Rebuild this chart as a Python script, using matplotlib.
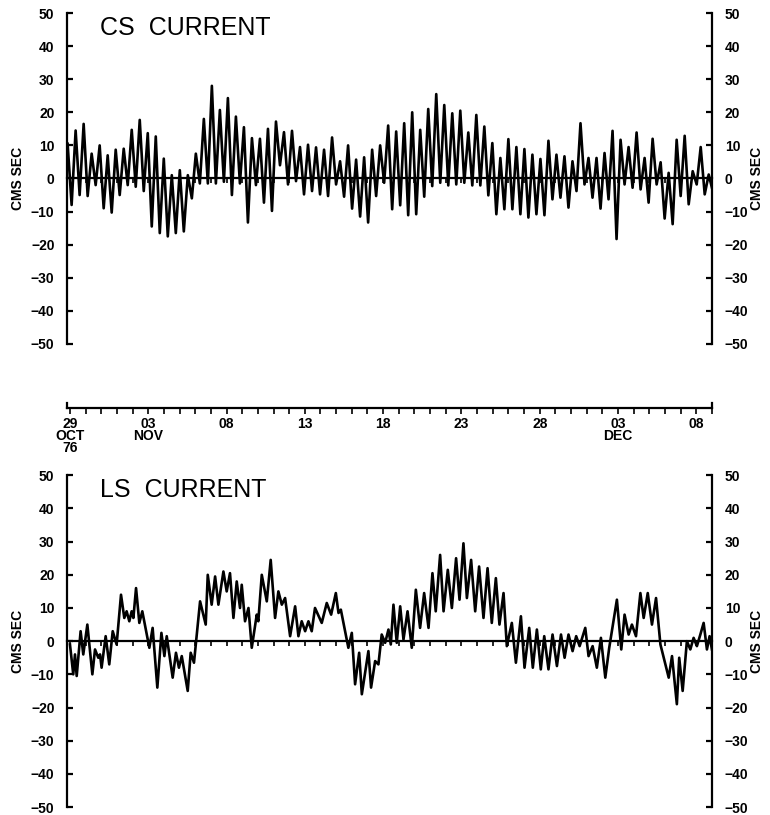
import numpy as np
import matplotlib
matplotlib.use("Agg")
import matplotlib.pyplot as plt

plt.rcParams['font.family'] = ['Liberation Sans', 'DejaVu Sans']

# CS current extremes (cm/s), sampled at a regular interval over the record
cs_current = [
    10.5, -8, 14.5, -5, 16.5, -5.3, 7.5, -2, 10, -9, 7, -10.3, 8.7, -5, 9, -2,
    14.7, -2.5, 17.7, -3.8, 13.7, -14.5, 12.7, -16.5, 6, -17.5, 1, -16.5, 2.5, -16,
    1, -6, 7.5, -1.5, 18, -1.5, 28, -1.5, 20.7, -1, 24.3, -5, 18.7, -1.5, 15.5, -13.3,
    12.2, -2,
    12, -7.3, 15, -9.8, 17.2, 4, 14, -1.8, 14.4, -0.8, 9.5, -4.8, 10.2, -3.8, 9.4, -4.8,
    8.7, -5.3, 12.4, -1.8, 5.2, -5.5, 10, -9.1, 5.7, -11.5, 6.4, -13.3, 8.7, -5.3,
    10, -1.3, 16, -9.3, 14.2, -8.1, 16.7, -11.1, 20, -10.8, 14.7, -5.5, 21, -2.3,
    25.5, -1.3, 22.2, -2.1, 19.7, -1.8,
    20.5, -1.3, 13.9, -2.1, 19.2, -2.1, 15.7, -5.1, 10.7, -10.8, 6.2, -9.3, 11.9, -9.3,
    9.5, -10.8, 8.9, -11.8, 7.2, -10.8, 5.9, -11.1, 11.4, -6.3, 7.2, -5.8, 6.7, -8.8,
    5.2, -3.8, 16.7, -1.8, 6.2, -5.8, 6.2, -9.1, 7.7, -6.3, 14.4, -18.3, 11.7, -1.8,
    9.5, -2.8, 13.9, -3.3, 6.2, -7.3, 12, -1.8, 4.9, -12.1, 1.7, -13.8, 11.7, -5.3,
    12.9, -7.8, 2.2, -1.8, 9.5, -4.8, 1.2, -3.8,
]
# CS record span, days from 29 Oct 1976 00:00
cs_start_day = -0.15
cs_end_day = 41.05

# LS current turning points: time (days from 29 Oct 1976 00:00) and speed (cm/s)
ls_day = [
    0.00, 0.21, 0.32, 0.43, 0.68, 0.85, 1.11, 1.43, 1.60, 1.81, 1.92, 2.02, 2.28,
    2.51, 2.73, 2.98, 3.26, 3.47, 3.62, 3.79, 3.94, 4.05, 4.22, 4.43, 4.62, 5.07,
    5.28, 5.58, 5.84, 6.03, 6.18, 6.56, 6.77, 6.96, 7.14, 7.52, 7.71, 7.92, 8.31,
    8.67, 8.80, 9.05, 9.27, 9.48, 9.80, 10.01, 10.22, 10.44, 10.65, 10.86, 10.97,
    11.18, 11.40, 11.61, 11.93, 12.03, 12.25,
    12.57, 12.82, 13.10, 13.31, 13.53, 13.74, 14.06, 14.38, 14.59, 14.80, 15.02,
    15.23, 15.44, 15.65, 16.08, 16.40, 16.68, 16.98, 17.15, 17.30, 17.78, 18.00,
    18.21, 18.47, 18.64, 19.06, 19.23, 19.49, 19.70, 19.91, 20.13, 20.34, 20.49,
    20.66, 20.87, 21.09, 21.30, 21.56, 21.83, 22.09, 22.36, 22.62, 22.90, 23.15,
    23.36, 23.64, 23.86, 24.13, 24.39, 24.66, 24.88, 25.13,
    25.35, 25.62, 25.88, 26.13, 26.41, 26.67, 26.94, 27.20, 27.43, 27.69, 27.90,
    28.22, 28.48, 28.80, 29.03, 29.33, 29.56, 29.82, 30.07, 30.29, 30.56, 30.82,
    31.10, 31.36, 31.59, 31.84, 32.10, 32.33, 32.55, 32.91, 33.12, 33.38, 33.65,
    33.91, 34.19, 34.44, 34.93, 35.21, 35.42, 35.68, 35.89, 36.15, 36.43, 36.64,
    36.90, 37.17, 37.43, 37.71, 38.24, 38.45, 38.76, 38.91, 39.13, 39.40, 39.62,
    39.83, 40.04, 40.26, 40.47, 40.68, 40.85, 41.00,
]
ls_current = [
    -1, -10, -4, -10.5, 3, -4, 5, -10, -2.5, -5, -4, -8, 1.5,
    -7, 3, -1, 14, 7, 9, 6, 9, 7, 16, 5.5, 9, -2,
    4, -14, 2.5, -4.5, 1.5, -11, -3.5, -8, -4.5, -15, -3.5, -6.5, 12,
    5, 20, 11, 19.5, 11, 21, 15, 20.5, 7, 18, 10, 17,
    6, 10, -2, 8, 6, 20,
    12, 24.5, 7, 15, 11, 13, 1.5, 10.5, 1.5, 6, 3,
    6, 3, 10, 5.5, 11.5, 8, 14.5, 8.5, 9.5, -2, 2.5,
    -13, -3.5, -16, -3, -14, -6, -7, 2, -0.5, 3.5, -1,
    11, -0.5, 10.5, 0.5, 9, -2, 15.5, 4, 14.5, 4, 20.5,
    9, 26, 9, 21.5, 10, 25, 12.5, 29.5,
    13, 24.5, 9, 22.5, 7, 22, 5.5, 19, 5, 14.5, -1.5,
    5.5, -6.5, 7.5, -8, 4, -8, 3.5, -8.5, 1.5, -8.5, 2,
    -7.5, 2, -5, 2, -3, 1.5, -1.5, 4, -4.5, -1.5, -8,
    1, -11, -2, 12.5, -2.5, 8, 2, 5, 1.5, 14.5, 7,
    14.5, 5, 13, -1, -11, -4.5, -19, -5, -15, 0, -2.5,
    1, -1.5, 2, 5.5, -2.5, 1.5, -2.5,
]

day_ticks = list(range(0, 41, 5))
day_labels = ['29\nOCT\n76', '03\nNOV', '08', '13', '18', '23', '28', '03\nDEC', '08']
y_ticks = list(range(-50, 51, 10))
xlim = (-0.19, 41.02)

fig = plt.figure(figsize=(7.7, 8.15), dpi=100)

LABEL_FONT = dict(fontsize=10, fontweight='bold')


def panel(rect, t, values, title):
    ax = fig.add_axes(rect)
    ax.plot(t, values, color='black', lw=1.9, solid_joinstyle='round')
    ax.set_xlim(*xlim)
    ax.set_ylim(-50, 50)
    ax.spines['top'].set_visible(False)
    # the bottom spine doubles as the zero line, with a tick at each day
    ax.spines['bottom'].set_position(('data', 0))
    ax.spines['bottom'].set_linewidth(1.6)
    for side in ('left', 'right'):
        ax.spines[side].set_linewidth(1.6)
    ax.set_xticks(np.arange(0, 42, 1))
    ax.tick_params(axis='x', direction='out', length=3.5, width=1.2,
                   labelbottom=False)
    ax.set_yticks(y_ticks)
    ax.tick_params(axis='y', which='both', direction='in', length=4.5, width=1.6,
                   left=True, right=True, labelleft=True, labelright=True,
                   labelsize=10, pad=9)
    for lab in ax.get_yticklabels():
        lab.set_fontweight('bold')
    ax.text(0.051, 0.955, title, transform=ax.transAxes, fontsize=18,
            va='center', ha='left')
    ax.text(-0.076, 0.5, 'CMS SEC', transform=ax.transAxes, rotation=90,
            va='center', ha='center', **LABEL_FONT)
    ax.text(1.07, 0.5, 'CMS SEC', transform=ax.transAxes, rotation=90,
            va='center', ha='center', **LABEL_FONT)
    return ax


cs_t = np.linspace(cs_start_day, cs_end_day, len(cs_current))
panel([0.087, 0.578, 0.838, 0.406], cs_t, cs_current, 'CS  CURRENT')
panel([0.087, 0.0098, 0.838, 0.407], ls_day, ls_current, 'LS  CURRENT')

# Shared date scale between the two panels; short end caps rise from the line
dax = fig.add_axes([0.087, 0.499, 0.838, 0.006])
dax.set_xlim(*xlim)
dax.set_ylim(0, 1)
dax.patch.set_visible(False)
dax.spines['top'].set_visible(False)
for side in ('left', 'right', 'bottom'):
    dax.spines[side].set_linewidth(1.6)
dax.set_yticks([])
dax.set_xticks(np.arange(0, 42, 1), minor=True)
dax.set_xticks(day_ticks)
dax.set_xticklabels(day_labels, fontsize=10, fontweight='bold',
                    linespacing=0.85, va='top')
dax.tick_params(axis='x', which='both', direction='out', length=4, width=1.2, pad=2)

fig.savefig('out.png', dpi=100)
